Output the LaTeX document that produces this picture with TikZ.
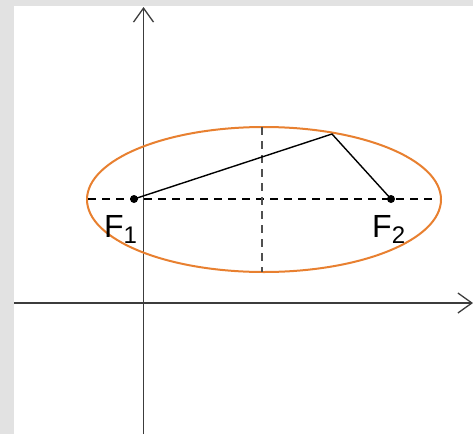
\documentclass[tikz,border=0pt]{standalone}
\usepackage{fontspec}
\setmainfont{Liberation Sans}
\usetikzlibrary{arrows.meta}
\definecolor{bggray}{RGB}{226,226,226}
\definecolor{axisgray}{RGB}{60,60,60}
\definecolor{ellorange}{RGB}{232,128,48}
\definecolor{dashgray}{RGB}{80,80,80}
\tikzset{
  axis/.style={draw=axisgray, line width=1.7pt, -{Straight Barb[length=14pt,width=20pt,line width=1.3pt]}},
  guide/.style={draw=black, line width=1.5pt, dash pattern=on 8pt off 6pt},
  chord/.style={draw=black, line width=1.4pt},
  focusdot/.style={circle, fill=black, inner sep=0pt, minimum size=8pt},
  flabel/.style={font=\fontsize{32}{36}\selectfont, inner sep=0pt, anchor=base west}
}
\newcommand{\sublow}[1]{\raisebox{-6pt}{\fontsize{24}{25}\selectfont #1}}
\begin{document}
\begin{tikzpicture}[x=1pt,y=-1pt]
\useasboundingbox (0,0) rectangle (473,434);
\fill[bggray] (0,0) rectangle (473,434);
\fill[white] (14,6) rectangle (473,434);
% axes
\coordinate (xs) at (14,303);
\coordinate (xe) at (473,303);
\coordinate (ys) at (143.5,434);
\coordinate (ye) at (143.5,7);
\draw[axis] (xs) -- (xe);
\draw[axis] (ys) -- (ye);
% ellipse
\coordinate (C) at (264,199.5);
\draw[ellorange, line width=2pt] (C) ellipse [x radius=177, y radius=72.5];
% dashed guides
\coordinate (hl) at (88,199);
\coordinate (hr) at (437,199);
\coordinate (vt) at (262,127);
\coordinate (vb) at (262,272);
\draw[guide] (hl) -- (hr);
\draw[guide, draw=dashgray] (vt) -- (vb);
% foci and point
\node[focusdot] (F1) at (134,199) {};
\node[focusdot] (F2) at (391,199) {};
\coordinate (P) at (332,134);
\draw[chord] (F1.center) -- (P) -- (F2.center);
% labels
\node[flabel] (L1) at (104,237) {F\sublow{1}};
\node[flabel] (L2) at (372,237) {F\sublow{2}};
\end{tikzpicture}
\end{document}
